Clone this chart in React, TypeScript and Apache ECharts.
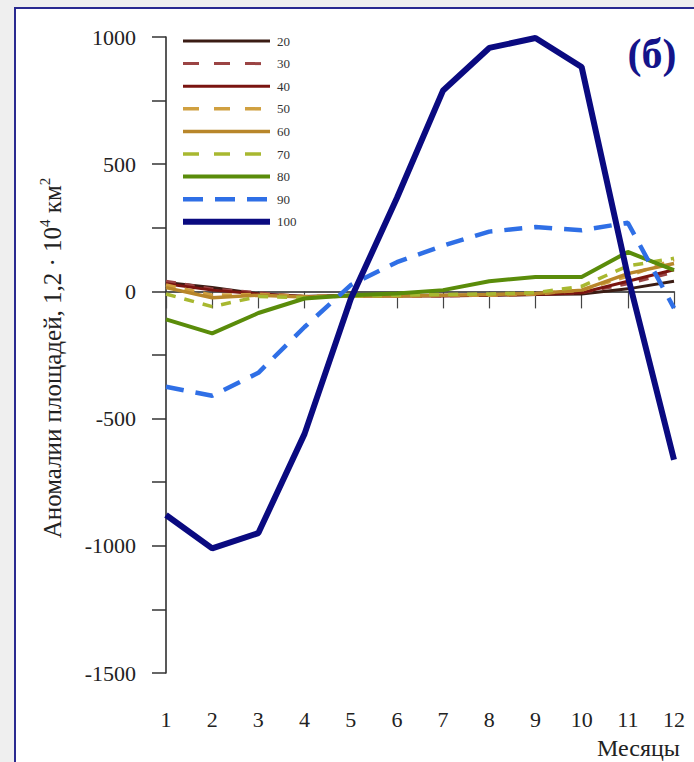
import React, { useEffect, useRef } from "react";
import * as echarts from "echarts";

const months = ["1", "2", "3", "4", "5", "6", "7", "8", "9", "10", "11", "12"];
const seriesNames = ["20", "30", "40", "50", "60", "70", "80", "90", "100"];
const s20 = [35, 15, -10, -20, -15, -15, -15, -15, -12, -10, 10, 40];
const s30 = [40, 10, -5, -20, -18, -18, -18, -15, -12, -5, 30, 75];
const s40 = [30, 5, -10, -20, -18, -18, -18, -15, -12, -5, 40, 85];
const s50 = [25, -15, -12, -20, -18, -18, -15, -15, -10, 5, 60, 125];
const s60 = [15, -25, -15, -22, -18, -18, -15, -12, -8, 5, 70, 110];
const s70 = [-10, -60, -20, -25, -18, -15, -12, -10, -5, 20, 100, 130];
const s80 = [-110, -165, -85, -28, -15, -8, 5, 40, 57, 57, 155, 84];
const s90 = [-375, -410, -320, -140, 25, 115, 180, 235, 253, 240, 270, -66];
const s100 = [-879, -1010, -950, -560, -30, 367, 790, 957, 996, 882, 60, -662];
const seriesValues = [s20, s30, s40, s50, s60, s70, s80, s90, s100];

const colors = ["#3b1c14", "#9b4444", "#7a1410", "#d0a040", "#b8862a", "#a8b830", "#5a8c0a", "#2f6fe6", "#0a0a80"];
const dashed = [false, true, false, true, false, true, false, true, false];
const widths = [3, 3, 3, 3.5, 3.5, 3.5, 4, 4.5, 6];

const yTicks = { min: -1500, max: 1000, interval: 250, labelStep: 500 };

const SERIF = "'Liberation Serif', 'DejaVu Serif', serif";

function dashFor(i: number): number[] | "solid" {
  if (!dashed[i]) return "solid";
  return i === 7 ? [18, 12] : [10, 9];
}

export default function App() {
  const ref = useRef<HTMLDivElement>(null);
  useEffect(() => {
    if (!ref.current) return;
    const chart = echarts.init(ref.current, null, { renderer: "svg" });
    const series = seriesNames.map((name, i) => ({
      name,
      type: "line",
      data: seriesValues[i],
      symbol: "none",
      z: 2 + i,
      lineStyle: { color: colors[i], width: widths[i], type: dashFor(i) },
      itemStyle: { color: colors[i] },
    }));
    const legendEls: any[] = [];
    seriesNames.forEach((name, i) => {
      const y = 41 + i * 22.6;
      const d = dashFor(i);
      legendEls.push({
        type: "line",
        shape: { x1: 183, y1: y, x2: 270, y2: y },
        style: {
          stroke: colors[i],
          lineWidth: widths[i],
          lineDash: d === "solid" ? null : i === 7 ? [20, 12] : [16, 15],
        },
        z: 20,
      });
      legendEls.push({
        type: "text",
        x: 277,
        y: y,
        style: { text: name, font: "13px " + SERIF, fill: "#333", align: "left", verticalAlign: "middle" },
        z: 20,
      });
    });
    chart.setOption({
      animation: false,
      backgroundColor: "#efefef",
      graphic: [
        {
          type: "rect",
          shape: { x: 15, y: 8, width: 700, height: 780 },
          style: { fill: "#ffffff", stroke: "#2a2a90", lineWidth: 2 },
          z: -10,
          silent: true,
        },
        {
          type: "text",
          x: 652,
          y: 54,
          style: {
            text: "(б)",
            font: "bold 42px " + SERIF,
            fill: "#14148a",
            align: "center",
            verticalAlign: "middle",
          },
        },
        {
          type: "text",
          x: 51,
          y: 358,
          rotation: Math.PI / 2,
          style: {
            text: "{a|Аномалии площадей, 1,2 · 10}{s|4}{a| км}{s|2}",
            align: "center",
            verticalAlign: "middle",
            rich: {
              a: { fontFamily: SERIF, fontSize: 25, fill: "#222", lineHeight: 28, verticalAlign: "bottom" },
              s: { fontFamily: SERIF, fontSize: 15, fill: "#222", lineHeight: 28, verticalAlign: "top", padding: [0, 0, 10, 0] },
            },
          },
        },
        {
          type: "text",
          x: 680,
          y: 748,
          style: {
            text: "Месяцы",
            font: "24px " + SERIF,
            fill: "#222",
            align: "right",
            verticalAlign: "middle",
          },
        },
        ...legendEls,
      ],
      grid: { left: 166, right: 20, top: 37, bottom: 89 },
      xAxis: {
        type: "category",
        data: months,
        boundaryGap: false,
        axisLine: { lineStyle: { color: "#222", width: 1.5 } },
        axisTick: { inside: false, length: 17, lineStyle: { color: "#444", width: 1.2 }, alignWithLabel: true },
        axisLabel: { fontFamily: SERIF, fontSize: 22, color: "#222", margin: 35 },
        splitLine: { show: false },
      },
      yAxis: {
        type: "value",
        min: yTicks.min,
        max: yTicks.max,
        interval: yTicks.interval,
        axisLine: { show: true, lineStyle: { color: "#222", width: 1.5 } },
        axisTick: { show: true, length: 14, lineStyle: { color: "#333", width: 1.5 } },
        axisLabel: {
          fontFamily: SERIF,
          fontSize: 22,
          color: "#222",
          margin: 30,
          formatter: (v: number) => (v % yTicks.labelStep === 0 ? String(v) : ""),
        },
        splitLine: { show: false },
      },
      series,
    });
    return () => chart.dispose();
  }, []);
  return <div ref={ref} style={{ position: "absolute", left: 0, top: 0, width: 694, height: 762 }} />;
}
